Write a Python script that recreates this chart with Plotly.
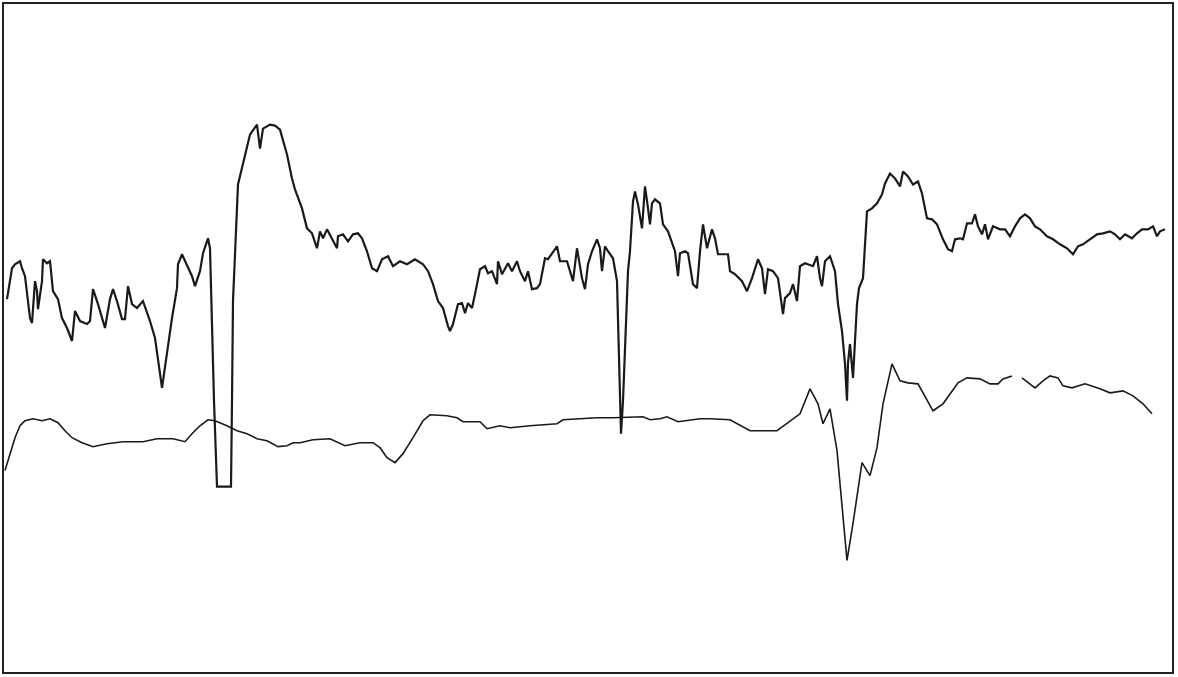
import plotly.graph_objects as go

# Upper trace (time position, deflection) (screen units, y downward)
upper_x = [7, 12, 15, 20, 22, 25, 30, 32, 35, 37, 38, 42, 43, 47, 50, 53, 58, 62, 67, 70, 72, 75, 80, 87, 90,
           93, 98, 105, 110, 113, 117, 122, 125, 128, 132, 137, 143, 150, 155, 162, 167, 172, 177, 178, 182,
           192, 195, 200, 203, 208, 210, 214, 217, 231, 232, 233, 238, 243, 250, 252, 257, 260, 263, 270,
           275, 280, 287, 292, 295, 302, 307, 312, 317, 320, 323, 327, 332, 337, 338, 343, 348, 353, 358,
           362, 367, 372, 377, 382, 388, 393, 400, 407, 415, 423, 428, 433, 438, 443, 448, 450, 453, 458,
           462, 465, 468, 472, 475, 480, 485, 488, 492, 497, 498, 502, 508, 512, 517, 520, 525, 528, 532,
           537, 540, 545, 548, 557, 560, 567, 573, 577, 582, 585, 588, 592, 597, 600, 602, 605, 608, 613,
           617, 619, 621, 623, 625, 628, 630, 632, 633, 635, 638, 642, 645, 648, 650, 652, 655, 660, 663,
           668, 672, 675, 678, 680, 685, 688, 693, 697, 700, 703, 707, 712, 715, 718, 723, 728, 730, 735,
           742, 747, 752, 755, 758, 762, 765, 768, 773, 778, 783, 785, 790, 793, 797, 800, 805, 813, 817,
           820, 822, 825, 830, 835, 838, 842, 845, 847, 848, 850, 853, 857, 859, 863, 867, 872, 877, 882,
           885, 890, 895, 900, 903, 908, 913, 918, 922, 927, 932, 937, 943, 948, 952, 955, 960, 963, 967,
           972, 975, 978, 982, 985, 988, 993, 1000, 1005, 1010, 1015, 1020, 1025, 1030, 1035, 1040, 1047,
           1053, 1060, 1067, 1073, 1078, 1083, 1090, 1097, 1103, 1110, 1115, 1120, 1125, 1132, 1137, 1142,
           1148, 1153, 1157, 1160, 1165]
upper_y = [298, 267, 263, 260, 267, 275, 317, 322, 280, 290, 308, 280, 258, 262, 260, 290, 298, 317, 327, 335, 340, 310, 320, 323, 320,
           288, 303, 327, 298, 288, 300, 318, 318, 285, 303, 307, 300, 320, 337, 387, 350, 317, 287, 263, 253,
           275, 285, 270, 252, 237, 247, 400, 486, 486, 400, 300, 183, 163, 133, 130, 123, 147, 127, 123,
           124, 128, 153, 177, 188, 207, 227, 232, 247, 230, 237, 228, 237, 247, 235, 233, 240, 233, 232,
           237, 250, 267, 270, 258, 255, 265, 260, 263, 258, 263, 270, 283, 300, 307, 325, 330, 323, 303,
           302, 312, 302, 307, 293, 268, 265, 272, 270, 283, 260, 273, 262, 270, 260, 270, 280, 270, 288,
           287, 283, 257, 258, 245, 260, 260, 280, 247, 277, 288, 263, 250, 238, 247, 270, 245, 250, 257,
           280, 350, 433, 400, 353, 270, 250, 223, 200, 190, 203, 227, 185, 207, 223, 202, 198, 202, 223,
           230, 242, 250, 275, 252, 250, 252, 283, 287, 250, 223, 247, 228, 237, 253, 253, 253, 270, 273,
           280, 290, 277, 267, 258, 267, 293, 268, 270, 277, 313, 297, 292, 283, 300, 265, 262, 265, 255,
           277, 285, 260, 255, 270, 303, 330, 363, 400, 362, 343, 377, 303, 287, 277, 210, 207, 202, 193,
           182, 172, 177, 185, 170, 175, 183, 180, 192, 217, 218, 223, 238, 248, 250, 238, 237, 238, 222,
           222, 213, 225, 233, 223, 238, 225, 228, 228, 235, 225, 217, 213, 217, 225, 228, 235,
           238, 243, 247, 253, 245, 243, 238, 233, 232, 230, 233, 238, 233, 237, 232, 228,
           228, 225, 235, 230, 228]

# Lower trace
lower_x = [5, 10, 15, 20, 25, 33, 42, 50, 58, 65, 72, 82, 93, 107, 123, 143, 157, 173, 185, 192, 200, 208,
           215, 227, 237, 247, 257, 267, 278, 287, 293, 300, 313, 330, 345, 360, 373, 380, 387, 395, 403,
           413, 423, 430, 447, 457, 463, 480, 487, 500, 510, 530, 550, 557, 563, 580, 597, 613, 643, 650,
           660, 667, 678, 700, 710, 730, 750, 777, 790, 800, 810, 818, 823, 830, 837, 842, 847, 853, 862,
           870, 877, 883, 892, 900, 908, 918, 927, 933, 943, 958, 967, 980, 990, 998, 1003, 1012, 1016,
           1022, 1035, 1043, 1050, 1058, 1063, 1072, 1085, 1100, 1110, 1123, 1133, 1143, 1152]
lower_y = [470, 453, 437, 425, 420, 418, 420, 418, 422, 430, 437, 442, 446, 443, 441, 441, 438, 438, 441, 433, 425, 419,
           420, 425, 430, 433, 438, 440, 446, 445, 442, 442, 439, 438, 445, 442, 442, 447, 457, 462, 453,
           437, 420, 414, 415, 417, 421, 421, 428, 425, 427, 425, 423, 423, 419, 418, 417, 417, 416, 419,
           418, 416, 421, 418, 418, 419, 430, 430, 420, 413, 388, 403, 423, 408, 450, 503, 560, 523, 462,
           475, 447, 403, 363, 380, 382, 383, 400, 410, 403, 382, 377, 378, 383, 383, 378, 375, None,
           377, 387, 380, 375, 377, 385, 387, 383, 388, 392, 390, 395, 403, 413]

fig = go.Figure()
fig.add_trace(go.Scatter(x=upper_x, y=upper_y, mode="lines",
                         line=dict(color="#1a1a1a", width=2.2), showlegend=False, hoverinfo="skip"))
fig.add_trace(go.Scatter(x=lower_x, y=lower_y, mode="lines", connectgaps=False,
                         line=dict(color="#1a1a1a", width=1.6), showlegend=False, hoverinfo="skip"))

fig.update_layout(
    width=1178, height=677,
    margin=dict(l=4, r=6, t=2, b=5),
    paper_bgcolor="white", plot_bgcolor="white",
    xaxis=dict(range=[4, 1172], showgrid=False, zeroline=False, showticklabels=False, ticks="",
               showline=True, mirror=True, linecolor="#222222", linewidth=2),
    yaxis=dict(range=[672, 2], showgrid=False, zeroline=False, showticklabels=False, ticks="",
               showline=True, mirror=True, linecolor="#222222", linewidth=2),
)

fig.write_html("out.html", config={"displayModeBar": False},
               post_script="document.body.style.margin='0';document.body.style.overflow='hidden';")
